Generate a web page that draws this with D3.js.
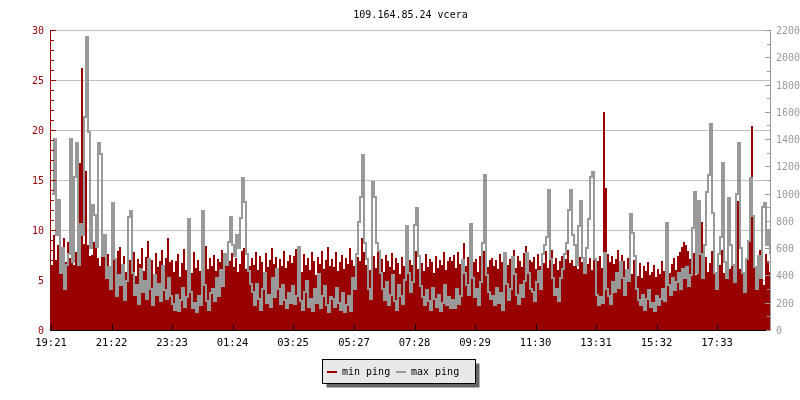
<!DOCTYPE html>
<html><head><meta charset="utf-8">
<script src="https://cdn.jsdelivr.net/npm/d3@7"></script>
<style>
body{margin:0;background:#fff}
svg{display:block;will-change:transform}
text{font-family:"DejaVu Sans Mono","Liberation Mono",monospace}
</style>
</head><body>
<svg id="chart" width="800" height="400"></svg>
<script>
const title = "109.164.85.24 vcera";
const seriesNames = ["min ping", "max ping"];
const stepMinutes = 4;      // one sample every 4 minutes, starting 19:21
const totalMinutes = 1440;

// min ping (left axis)
const minPing = [
6.5,9.5,7.0,8.5,10.2,7.5,9.2,6.8,8.8,7.2,8.3,6.5,7.8,8.2,16.7,26.2,8.6,15.9,8.5,7.4,
7.5,8.8,10.7,7.2,6.4,8.1,9.4,6.8,7.6,5.9,8.0,7.1,6.2,7.9,8.3,6.5,7.4,5.8,8.6,7.0,
6.2,7.8,5.4,7.1,6.6,8.2,5.9,7.3,8.9,6.4,7.0,5.6,7.7,6.3,6.9,8.0,5.7,7.2,9.2,6.8,
7.0,5.8,6.9,7.6,5.3,6.7,8.1,6.0,7.3,6.5,5.7,7.8,6.2,7.0,5.9,7.4,6.6,8.4,6.1,7.2,
6.4,7.5,5.9,7.1,6.8,8.0,6.2,7.4,8.6,6.9,7.7,6.3,7.2,5.8,6.6,7.9,8.2,6.1,7.0,6.4,
7.2,6.5,7.8,6.0,7.4,6.8,5.6,7.7,6.3,7.0,8.2,6.6,7.3,5.9,7.1,6.4,7.9,6.2,6.9,7.5,
6.7,7.4,8.1,6.2,7.0,5.8,7.6,6.5,7.2,6.0,7.8,6.9,5.5,7.3,6.6,7.9,6.1,7.0,8.3,6.4,
7.1,6.3,7.8,5.9,6.8,7.5,6.1,7.2,6.6,8.2,7.0,6.4,7.7,7.3,6.9,9.2,7.8,6.5,7.0,6.0,
6.8,7.4,6.2,7.9,6.6,7.1,5.8,7.5,6.9,6.3,7.7,6.0,7.2,6.7,5.6,7.3,6.4,7.8,6.1,7.0,
6.5,7.2,7.9,6.1,7.0,6.7,5.9,7.6,6.3,7.1,6.8,5.7,7.4,6.2,7.0,6.5,7.8,6.0,6.9,7.3,
6.9,7.5,6.2,7.8,6.6,7.0,8.7,6.4,7.3,6.0,7.7,6.8,7.1,5.8,7.4,6.6,7.9,7.2,6.3,7.0,
7.2,6.4,7.0,6.1,7.6,6.8,5.9,7.3,6.5,7.1,6.7,8.0,6.2,7.4,6.9,6.3,7.7,8.4,6.6,7.0,
6.8,7.3,6.1,7.6,6.4,7.0,6.7,7.9,6.2,7.5,8.0,6.6,7.2,6.0,6.9,7.4,6.3,7.1,8.0,6.7,
7.0,6.4,7.7,6.1,7.3,6.8,5.9,7.5,6.6,7.2,6.0,7.8,6.5,6.9,7.4,6.2,21.8,14.2,7.6,6.8,
7.4,6.6,7.1,8.0,6.3,7.5,6.9,5.8,7.2,6.5,5.6,7.0,6.1,5.4,6.7,5.2,6.4,5.9,6.8,5.5,
5.8,6.5,5.3,6.1,5.6,6.9,5.9,6.3,7.0,5.7,6.6,7.2,6.0,7.4,7.8,8.3,8.8,8.5,7.9,7.1,
6.4,7.7,5.5,6.9,8.1,10.8,6.2,7.3,5.8,6.7,7.9,6.0,5.1,7.2,6.5,8.0,5.7,6.8,7.5,6.1,
7.0,5.6,8.2,12.9,6.1,7.4,4.8,6.6,7.9,13.5,20.4,7.2,5.3,6.8,8.0,6.3,4.5,7.6,6.9,5.8
];

// max ping (right axis)
const maxPing = [
1000,1400,700,950,420,600,300,480,560,1400,500,1124,1370,480,780,700,1560,2150,1450,600,
920,840,610,1370,1290,540,700,380,460,300,930,520,250,400,330,480,220,360,830,870,
420,260,330,190,450,280,360,230,520,300,180,400,260,340,210,470,290,230,380,250,
190,150,260,140,220,310,170,240,815,280,160,200,130,250,180,870,330,210,150,270,
300,210,380,250,440,320,560,480,645,830,620,540,700,600,820,1115,940,560,430,340,
280,180,340,230,150,300,420,200,260,170,380,240,450,300,190,330,220,160,270,200,
320,190,250,610,210,150,280,360,170,230,140,300,200,410,160,250,320,180,130,240,
230,170,310,200,150,270,130,180,250,140,380,300,560,790,975,1283,640,520,300,230,
1085,975,640,580,420,300,220,350,180,260,400,210,150,330,250,190,370,763,420,280,
350,770,895,540,320,240,180,290,210,150,310,230,170,260,140,200,330,180,240,160,
220,160,300,190,250,513,420,330,260,777,380,240,300,180,350,638,1137,400,280,230,
250,180,310,200,270,150,568,340,220,300,538,410,260,190,330,240,360,568,420,300,
280,210,350,430,300,560,620,680,1027,520,380,260,300,210,380,450,560,640,880,1027,
700,620,480,760,946,530,420,600,814,1122,1159,520,260,180,240,200,564,300,250,190,
350,280,420,310,500,380,260,440,360,851,711,540,300,220,180,260,150,230,290,170,
200,140,250,180,230,300,210,787,330,260,380,290,350,420,300,450,380,460,320,400,
748,1014,420,946,560,380,620,1014,1137,1511,858,420,300,560,680,1227,500,380,970,620,
480,350,997,1374,600,420,280,520,650,1115,836,460,300,540,380,904,933,620,733,560
];

// x axis ticks (minutes after 19:21) and their labels
const tickMinutes = [0,121,242,363,484,606,727,848,969,1090,1211,1332];
const tickLabels = ["19:21","21:22","23:23","01:24","03:25","05:27","07:28","09:29","11:30","13:31","15:32","17:33"];
const leftTicks = [0,5,10,15,20,25,30];
const rightTicks = [0,200,400,600,800,1000,1200,1400,1600,1800,2000,2200];

const RED = "#990000", GRAY = "#999999";
const L = 51, R = 770, T = 30, B = 330;

const svg = d3.select("#chart");
const x = d3.scaleLinear().domain([0, totalMinutes]).range([L, L + 720]);
const yL = d3.scaleLinear().domain([0, 30]).range([B, T]);
const yR = d3.scaleLinear().domain([0, 2200]).range([B, T]);

// title
svg.append("text").attr("x", (L + R) / 2).attr("y", 18).attr("text-anchor", "middle")
  .attr("font-size", 10).attr("fill", "#000").text(title);

// grid lines
svg.append("g").selectAll("line").data(leftTicks.filter(d => d > 0)).join("line")
  .attr("x1", L).attr("x2", R).attr("y1", d => yL(d) + 0.5).attr("y2", d => yL(d) + 0.5)
  .attr("stroke", "#c0c0c0");

// series
const minData = minPing.map((v, i) => ({ t: i * stepMinutes, v }));
minData.push({ t: totalMinutes - 2, v: minPing[minPing.length - 1] });
const maxData = maxPing.map((v, i) => ({ t: i * stepMinutes, v }));
maxData.push({ t: totalMinutes - 4, v: maxPing[maxPing.length - 1] });

svg.append("path").datum(minData)
  .attr("d", d3.area().x(d => x(d.t)).y0(B).y1(d => yL(d.v)).curve(d3.curveStepAfter))
  .attr("fill", RED).attr("shape-rendering", "crispEdges");

svg.append("path").datum(maxData)
  .attr("d", d3.line().x(d => x(d.t) + 1).y(d => Math.round(yR(d.v))).curve(d3.curveStepAfter))
  .attr("fill", "none").attr("stroke", GRAY).attr("stroke-width", 2)
  .attr("stroke-linejoin", "miter").attr("stroke-linecap", "butt")
  .attr("shape-rendering", "crispEdges");

// left axis
const gl = svg.append("g");
gl.append("line").attr("x1", L - 0.5).attr("x2", L - 0.5).attr("y1", T).attr("y2", B + 1).attr("stroke", RED);
gl.selectAll("line.t").data(d3.range(0, 31)).join("line").attr("class", "t")
  .attr("x1", L).attr("x2", d => d % 5 === 0 ? L + 5 : L + 3)
  .attr("y1", d => yL(d) + 0.5).attr("y2", d => yL(d) + 0.5).attr("stroke", RED);
gl.selectAll("text").data(leftTicks).join("text")
  .attr("x", 44).attr("y", d => yL(d) + 4).attr("text-anchor", "end")
  .attr("font-size", 10).attr("fill", RED).text(d => d);

// right axis
const gr = svg.append("g");
gr.append("line").attr("x1", R + 0.5).attr("x2", R + 0.5).attr("y1", T).attr("y2", B + 1).attr("stroke", GRAY);
gr.selectAll("line.t").data(d3.range(0, 2201, 100)).join("line").attr("class", "t")
  .attr("x1", d => d % 200 === 0 ? R - 5 : R - 3).attr("x2", R)
  .attr("y1", d => Math.round(yR(d)) + 0.5).attr("y2", d => Math.round(yR(d)) + 0.5).attr("stroke", GRAY);
gr.selectAll("text").data(rightTicks).join("text")
  .attr("x", 776).attr("y", d => yR(d) + 4)
  .attr("font-size", 10).attr("fill", GRAY).text(d => d);

// x axis
const gx = svg.append("g");
gx.append("line").attr("x1", L - 1).attr("x2", R - 4).attr("y1", B + 0.5).attr("y2", B + 0.5).attr("stroke", "#000");
gx.selectAll("line.t").data(tickMinutes).join("line").attr("class", "t")
  .attr("x1", d => Math.round(x(d)) + 0.5).attr("x2", d => Math.round(x(d)) + 0.5)
  .attr("y1", B - 5).attr("y2", B).attr("stroke", "#000");
gx.selectAll("text").data(tickMinutes).join("text")
  .attr("x", d => x(d)).attr("y", 346).attr("text-anchor", "middle")
  .attr("font-size", 10.5).attr("fill", "#000").text((d, i) => tickLabels[i]);

// legend
const lg = svg.append("g");
lg.append("rect").attr("x", 326.5).attr("y", 363.5).attr("width", 153).attr("height", 24).attr("fill", "#666");
lg.append("rect").attr("x", 322.5).attr("y", 359.5).attr("width", 153).attr("height", 24)
  .attr("fill", "#e8e8e8").attr("stroke", "#000");
const legendItems = [
  { name: seriesNames[0], color: RED, x: 327 },
  { name: seriesNames[1], color: GRAY, x: 396 }
];
legendItems.forEach(it => {
  lg.append("rect").attr("x", it.x).attr("y", 371).attr("width", 10).attr("height", 2).attr("fill", it.color);
  lg.append("text").attr("x", it.x + 15).attr("y", 375).attr("font-size", 10)
    .attr("fill", "#000").text(it.name);
});
</script>
</body></html>
